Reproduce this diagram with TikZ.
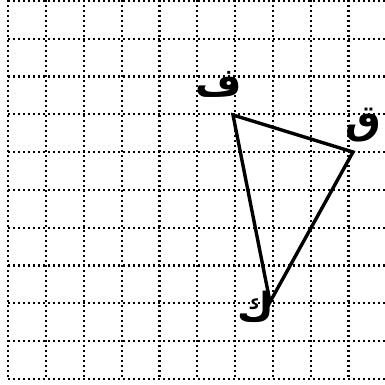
\documentclass[tikz,border=0pt]{standalone}
\usepackage{fontspec}
\TeXXeTstate=1
\newfontfamily\arabicfont[Script=Arabic]{DejaVu Sans}
\begin{document}
\begin{tikzpicture}[x=1pt,y=-1pt,
  gridline/.style={line width=2.2pt,dash pattern=on 2pt off 3pt},
  side/.style={line width=3.4pt,line join=miter},
  lbl/.style={font=\arabicfont\bfseries\fontsize{40}{46}\selectfont,inner sep=0pt}]
\useasboundingbox[fill=white] (0,0) rectangle (385,385);
\foreach \i in {0,...,9}{
  \draw[gridline] (8.3+37.8*\i,0) -- (8.3+37.8*\i,379);
}
\foreach \j in {0,...,10}{
  \draw[gridline] (8.3,1+37.78*\j) -- (385,1+37.78*\j);
}
\coordinate (F) at (233,115);
\coordinate (Q) at (353,152);
\coordinate (K) at (270,302);
\draw[side] (F) -- (Q) -- (K) -- cycle;
\node[lbl] (lf) at (219,84) {\beginR ف\endR};
\node[lbl] (lq) at (363,125) {\beginR ق\endR};
\node[lbl] (lk) at (256,307) {\beginR ك\endR};
\end{tikzpicture}
\end{document}
